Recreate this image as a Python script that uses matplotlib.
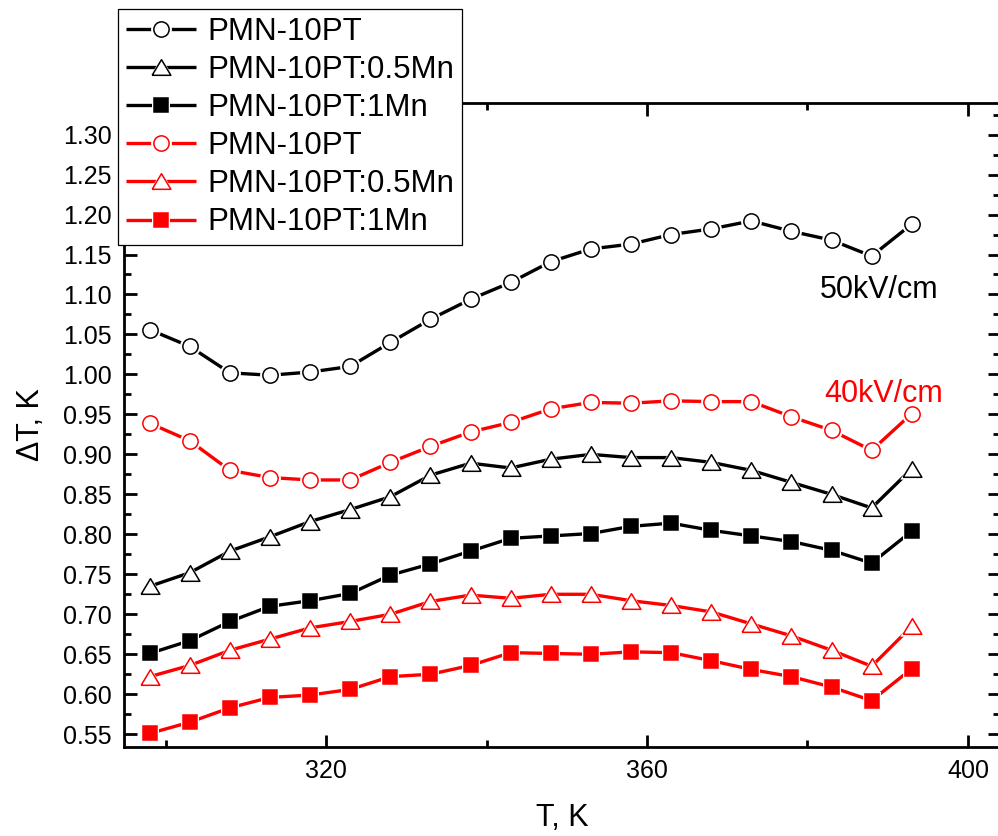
import matplotlib
matplotlib.use("Agg")
import matplotlib.pyplot as plt
from matplotlib.legend_handler import HandlerTuple
from matplotlib.ticker import MultipleLocator, FormatStrFormatter

plt.rcParams['font.family'] = ['Liberation Sans', 'DejaVu Sans']

T = [298, 303, 308, 313, 318, 323, 328, 333, 338, 343,
     348, 353, 358, 363, 368, 373, 378, 383, 388, 393]

# 50 kV/cm (black)
pmn_50 = [1.056, 1.035, 1.002, 0.999, 1.003, 1.010, 1.040, 1.069, 1.094, 1.115,
          1.141, 1.157, 1.163, 1.175, 1.182, 1.192, 1.179, 1.168, 1.148, 1.188]
pmn05_50 = [0.735, 0.752, 0.779, 0.797, 0.816, 0.831, 0.847, 0.874, 0.889, 0.883,
            0.894, 0.900, 0.896, 0.896, 0.890, 0.880, 0.865, 0.850, 0.833, 0.882]
pmn1_50 = [0.651, 0.667, 0.691, 0.710, 0.717, 0.726, 0.749, 0.763, 0.779, 0.795,
           0.798, 0.801, 0.810, 0.814, 0.805, 0.798, 0.791, 0.780, 0.764, 0.804]
# 40 kV/cm (red)
pmn_40 = [0.939, 0.917, 0.880, 0.871, 0.868, 0.868, 0.890, 0.910, 0.928, 0.940,
          0.957, 0.965, 0.964, 0.967, 0.966, 0.966, 0.947, 0.930, 0.905, 0.951]
pmn05_40 = [0.622, 0.636, 0.655, 0.669, 0.683, 0.691, 0.700, 0.716, 0.724, 0.720,
            0.725, 0.725, 0.717, 0.711, 0.703, 0.688, 0.673, 0.655, 0.635, 0.685]
pmn1_40 = [0.551, 0.565, 0.583, 0.596, 0.599, 0.606, 0.622, 0.625, 0.636, 0.652,
           0.651, 0.650, 0.653, 0.652, 0.642, 0.631, 0.622, 0.609, 0.592, 0.632]

labels = ["PMN-10PT", "PMN-10PT:0.5Mn", "PMN-10PT:1Mn",
          "PMN-10PT", "PMN-10PT:0.5Mn", "PMN-10PT:1Mn"]
series = [pmn_50, pmn05_50, pmn1_50, pmn_40, pmn05_40, pmn1_40]
colors = ['black', 'black', 'black', '#ff0000', '#ff0000', '#ff0000']

# wide Origin-style triangle
tri = [(-1.2, -1.0), (1.2, -1.0), (0.0, 1.0), (-1.2, -1.0)]
marker_kind = ['o', 't', 's', 'o', 't', 's']
mshape = {'o': 'o', 't': tri, 's': 's'}
msizes = {'o': 11, 't': 13.5, 's': 9.5}
open_marker = {'o': True, 't': True, 's': False}

fig = plt.figure(figsize=(9.98, 8.36), dpi=100)
ax = fig.add_axes([124/998, 1 - 747/836, 876/998, (747 - 103)/836])

handles = []
for y, c, mk in zip(series, colors, marker_kind):
    ms = msizes[mk]
    m = mshape[mk]
    fc = 'white' if open_marker[mk] else c
    l, = ax.plot(T, y, color=c, lw=2.4, zorder=2, solid_capstyle='butt')
    h, = ax.plot(T, y, ls='none', marker=m, ms=ms + 4, mfc='white', mec='white',
                 mew=0, zorder=3)
    k, = ax.plot(T, y, ls='none', marker=m, ms=ms, mfc=fc, mec=c, mew=1.1, zorder=4)
    handles.append((l, h, k))

ax.set_xlim(294.8, 404.0)
ax.set_ylim(0.534, 1.3395)
ax.xaxis.set_major_locator(MultipleLocator(40))
ax.xaxis.set_minor_locator(MultipleLocator(20))
ax.yaxis.set_major_locator(MultipleLocator(0.05))
ax.yaxis.set_minor_locator(MultipleLocator(0.025))
ax.yaxis.set_major_formatter(FormatStrFormatter('%.2f'))

ax.tick_params(which='both', direction='in', top=True, right=True,
               labelsize=18, pad=9)
ax.tick_params(which='major', length=9, width=2)
ax.tick_params(which='minor', length=5, width=2)
for sp in ax.spines.values():
    sp.set_linewidth(2)

ax.set_xlabel("T, K", fontsize=22, labelpad=14)
ax.set_ylabel("ΔT, K", fontsize=22, labelpad=12)

ax.text(381.5, 1.095, "50kV/cm", fontsize=22, color='black',
        ha='left', va='baseline')
ax.text(382.1, 0.9658, "40kV/cm", fontsize=22, color='#ff0000',
        ha='left', va='baseline')

leg = fig.legend(handles, labels, handler_map={tuple: HandlerTuple(ndivide=1)},
                 loc='upper left', bbox_to_anchor=(118/998, 1 - 9/836),
                 fontsize=22.5, frameon=True, fancybox=False, shadow=False,
                 framealpha=1, edgecolor='black', borderpad=0.25,
                 labelspacing=0.26, handlelength=2.25, handletextpad=0.35,
                 borderaxespad=0, numpoints=1)
leg.get_frame().set_linewidth(0.9)

fig.savefig("out.png", dpi=100)
